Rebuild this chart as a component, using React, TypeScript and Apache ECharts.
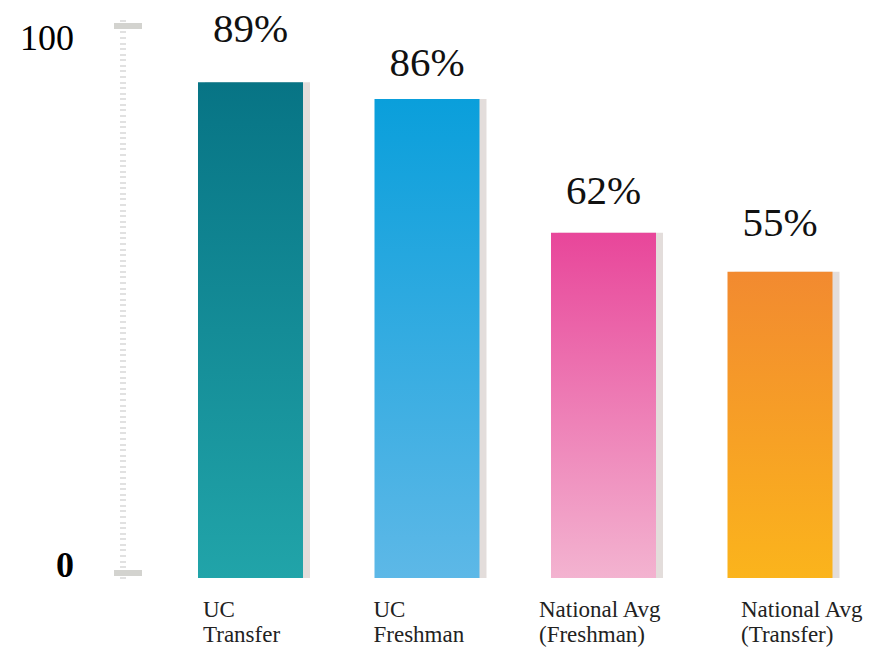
import React, { useEffect, useRef } from "react";
import * as echarts from "echarts";

const categories = ["UC\nTransfer", "UC\nFreshman", "National Avg\n(Freshman)", "National Avg\n(Transfer)"];
const values = [89, 86, 62, 55];
const yTickLabels = ["0", "100"];
const yTickValues = [0, 100];

const topColors = ["#077485", "#0a9fdb", "#e8469a", "#f28a30"];
const bottomColors = ["#21a4a9", "#5db8e7", "#f3b3d0", "#fbb41c"];
const labelDistances = [34, 16, 22, 29];
const catPadding = [48, 36, 14, 65];

const SERIF = "Liberation Serif";

export default function App() {
  const ref = useRef<HTMLDivElement>(null);
  useEffect(() => {
    if (!ref.current) return;
    const chart = echarts.init(ref.current, undefined, { renderer: "svg" });
    const gridLeft = 165.75;
    const rich: any = {};
    catPadding.forEach((p, i) => {
      rich["c" + i] = {
        width: 150,
        align: "left",
        padding: [0, 0, 0, p],
        fontSize: 23,
        lineHeight: 25,
        fontFamily: SERIF,
        color: "#222",
      };
    });
    const barLabel = {
      show: true,
      position: "top",
      formatter: "{c}%",
      fontSize: 41,
      fontFamily: SERIF,
      fontWeight: "normal",
      color: "#111",
    };
    const option: any = {
      animation: false,
      grid: { left: gridLeft, right: 7.25, top: 21, bottom: 70, outerBoundsMode: "none", containLabel: false },
      xAxis: {
        type: "category",
        data: categories,
        axisLine: { show: false },
        axisTick: { show: false },
        axisLabel: {
          margin: 19,
          interval: 0,
          align: "center",
          formatter: (v: string, i: number) =>
            v
              .split("\n")
              .map((l) => `{c${i}|${l}}`)
              .join("\n"),
          rich,
        },
      },
      yAxis: [
        {
          type: "value",
          min: 0,
          max: 100,
          axisLine: { show: false },
          axisTick: { show: false },
          axisLabel: { show: false },
          splitLine: { show: false },
        },
        {
          type: "value",
          min: 0,
          max: 100,
          interval: 1,
          position: "left",
          offset: gridLeft - 126,
          axisLine: { show: false },
          axisTick: {
            show: true,
            length: 6,
            lineStyle: { color: "#dadada", width: 1.6 },
          },
          axisLabel: { show: false },
          splitLine: { show: false },
        },
        {
          type: "value",
          min: -0.9,
          max: 100.9,
          position: "left",
          offset: gridLeft - 114,
          axisLine: { show: false },
          axisTick: {
            show: true,
            inside: true,
            length: 28,
            customValues: yTickValues,
            lineStyle: { color: "#d3d3cf", width: 6 },
          },
          axisLabel: {
            show: true,
            margin: 40,
            customValues: yTickValues,
            formatter: (v: number) => {
              const idx = yTickValues.indexOf(v);
              const t = yTickLabels[idx] ?? String(v);
              return v === 100 ? `{top|${t}}` : `{bot|${t}}`;
            },
            rich: {
              top: {
                fontSize: 36,
                fontFamily: SERIF,
                color: "#000",
                padding: [24, 0, 0, 0],
              },
              bot: {
                fontSize: 36,
                fontFamily: SERIF,
                fontWeight: "bold",
                color: "#000",
                padding: [0, 0, 16, 0],
              },
            },
          },
          splitLine: { show: false },
        },
      ],
      series: [
        {
          type: "bar",
          yAxisIndex: 0,
          barWidth: 105,
          z: 3,
          data: values.map((v, i) => ({
            value: v,
            itemStyle: {
              color: new echarts.graphic.LinearGradient(0, 0, 0, 1, [
                { offset: 0, color: topColors[i] },
                { offset: 1, color: bottomColors[i] },
              ]),
            },
            label: { ...barLabel, distance: labelDistances[i] },
          })),
          label: barLabel,
        },
        {
          type: "bar",
          yAxisIndex: 0,
          barWidth: 105,
          barGap: "-93.33%",
          z: 2,
          silent: true,
          itemStyle: { color: "#e3dddb" },
          data: values,
        },
      ],
    };
    chart.setOption(option);
    return () => chart.dispose();
  }, []);
  return (
    <div
      ref={ref}
      style={{ position: "fixed", left: 0, top: 0, width: 879, height: 648, background: "#fff" }}
    />
  );
}
